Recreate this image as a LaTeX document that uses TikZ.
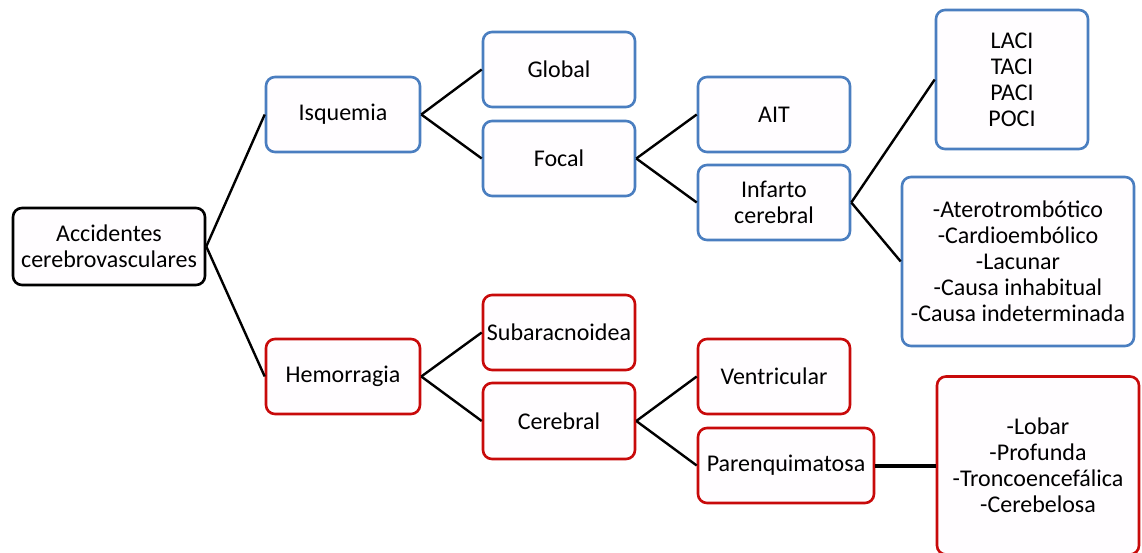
\documentclass[tikz,border=0pt]{standalone}
\usepackage{fontspec}
\setmainfont{Carlito}
\definecolor{bblue}{HTML}{4A7EC0}
\definecolor{rred}{HTML}{C80A0A}
\definecolor{boxfill}{HTML}{FFFDFF}
\begin{document}
\begin{tikzpicture}[x=1pt,y=-1pt,
 box/.style={draw, rounded corners=9pt, line width=2.6pt, fill=boxfill, align=center, inner sep=0pt, font=\fontsize{24}{26}\selectfont, text=black},
 bbox/.style={box, draw=bblue},
 rbox/.style={box, draw=rred},
 kbox/.style={box, draw=black},
 link/.style={line width=2.4pt, black},
 thicklink/.style={line width=4pt, black}]
\useasboundingbox (0,0) rectangle (1142,553);
\clip (0,0) rectangle (1142,553);
\fill[white] (0,0) rectangle (1142,553);
% nodes
\node[kbox, minimum width=192pt, minimum height=77pt] (root) at (109,246.5) {Accidentes\\cerebrovasculares};
\node[bbox, minimum width=154pt, minimum height=75pt] (isq) at (343,114.5) {Isquemia};
\node[bbox, minimum width=152pt, minimum height=75pt] (glob) at (559,69.5) {Global};
\node[bbox, minimum width=152pt, minimum height=75pt] (foc) at (559,158.5) {Focal};
\node[bbox, minimum width=152pt, minimum height=75pt] (ait) at (774,114.5) {AIT};
\node[bbox, minimum width=152pt, minimum height=75pt] (inf) at (774,202.5) {Infarto\\cerebral};
\node[bbox, minimum width=152pt, minimum height=139pt] (laci) at (1012,79.5) {LACI\\TACI\\PACI\\POCI};
\node[bbox, minimum width=232pt, minimum height=169pt] (ate) at (1018,261.5) {-Aterotrombótico\\-Cardioembólico\\-Lacunar\\-Causa inhabitual\\-Causa indeterminada};
\node[rbox, minimum width=154pt, minimum height=75pt] (hem) at (343,376.5) {Hemorragia};
\node[rbox, minimum width=152pt, minimum height=75pt] (sub) at (559,332.5) {Subaracnoidea};
\node[rbox, minimum width=152pt, minimum height=76pt] (cer) at (559,421) {Cerebral};
\node[rbox, minimum width=152pt, minimum height=75pt] (ven) at (774,376.5) {Ventricular};
\node[rbox, minimum width=176pt, minimum height=75pt] (par) at (786,465.5) {Parenquimatosa};
\node[rbox, minimum width=202pt, minimum height=178pt] (lob) at (1038,465.5) {-Lobar\\-Profunda\\-Troncoencefálica\\-Cerebelosa};
% connectors
\draw[link] (root.east) -- (isq.west);
\draw[link] (root.east) -- (hem.west);
\draw[link] (isq.east) -- (glob.west);
\draw[link] (isq.east) -- (foc.west);
\draw[link] (foc.east) -- (ait.west);
\draw[link] (foc.east) -- (inf.west);
\draw[link] (inf.east) -- (laci.west);
\draw[link] (inf.east) -- (ate.west);
\draw[link] (hem.east) -- (sub.west);
\draw[link] (hem.east) -- (cer.west);
\draw[link] (cer.east) -- (ven.west);
\draw[link] (cer.east) -- (par.west);
\draw[thicklink] (par.east) -- (lob.west);
\end{tikzpicture}
\end{document}
